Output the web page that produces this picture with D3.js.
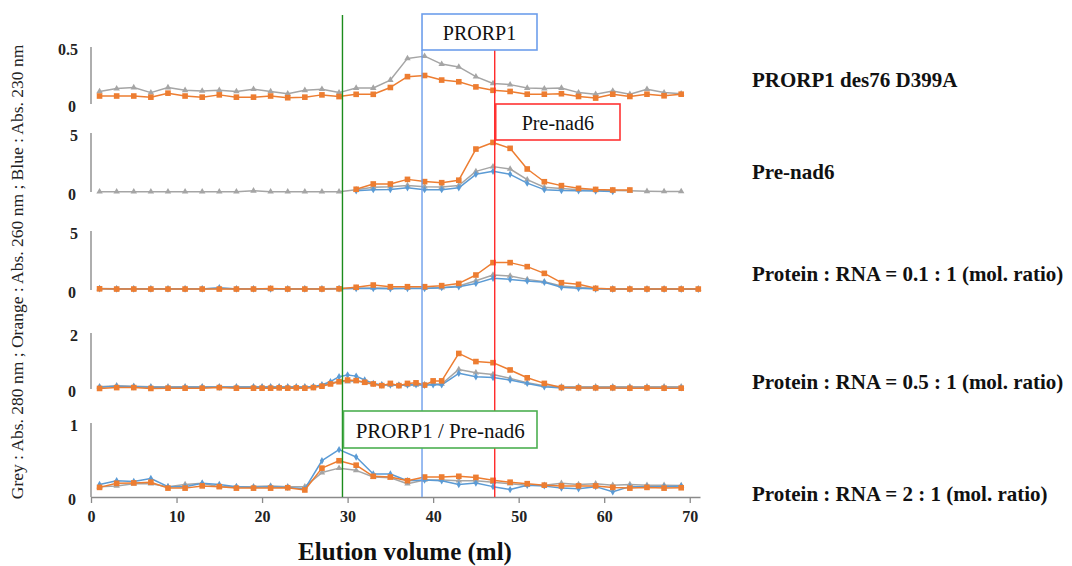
<!DOCTYPE html>
<html>
<head>
<meta charset="utf-8">
<script src="https://cdn.jsdelivr.net/npm/d3@7"></script>
<style>
  body { margin: 0; background: #fff; }
  svg { display: block; }
</style>
</head>
<body>
<svg id="chart" width="1072" height="566"></svg>
<script>
// Elution volumes (ml) of collected fractions
const fractionsOdd = [1,3,5,7,9,11,13,15,17,19,21,23,25,27,29,31,33,35,37,39,41,43,45,47,49,51,53,55,57,59,61,63,65,67,69];
const fractionsTo71 = [1,3,5,7,9,11,13,15,17,19,21,23,25,27,29,31,33,35,37,39,41,43,45,47,49,51,53,55,57,59,61,63,65,67,69,71];
const fractionsFine = [1,3,5,7,9,11,13,15,17,19,20,21,22,23,24,25,26,27,28,29,30,31,32,33,34,35,36,37,38,39,40,41,43,45,47,49,51,53,55,57,59,61,63,65,67,69];

// PRORP1 des76 D399A alone
const p1Grey   = [0.11,0.135,0.144,0.10,0.144,0.12,0.115,0.12,0.11,0.13,0.11,0.09,0.12,0.13,0.10,0.14,0.14,0.21,0.40,0.42,0.35,0.325,0.24,0.18,0.17,0.14,0.135,0.14,0.10,0.086,0.115,0.086,0.13,0.10,0.09];
const p1Orange = [0.07,0.07,0.07,0.06,0.095,0.07,0.06,0.08,0.06,0.06,0.07,0.055,0.06,0.08,0.065,0.085,0.085,0.145,0.24,0.25,0.21,0.195,0.15,0.12,0.11,0.086,0.086,0.09,0.066,0.052,0.086,0.066,0.086,0.072,0.086];

// Pre-nad6 alone
const p2Grey   = [0.03,0.03,0.03,0.03,0.03,0.03,0.03,0.03,0.03,0.1,0.03,0.03,0.03,0.03,0.03,0.2,0.4,0.45,0.55,0.45,0.42,0.55,1.75,2.15,1.95,1.05,0.4,0.3,0.2,0.15,0.12,0.1,0.06,0.05,0.05];
const p2Orange = [null,null,null,null,null,null,null,null,null,null,null,null,null,null,null,0.23,0.68,0.68,1.07,0.88,0.79,1.0,3.64,4.2,3.7,1.95,0.87,0.54,0.31,0.22,0.17,0.17,null,null,null];
const p2Blue   = [null,null,null,null,null,null,null,null,null,null,null,null,null,null,null,0.1,0.2,0.22,0.35,0.2,0.2,0.35,1.5,1.75,1.5,0.75,0.2,0.12,0.1,0.08,0.05,null,null,null,null];

// Protein : RNA = 0.1 : 1
const p3Grey   = [0.12,0.1,0.1,0.1,0.1,0.1,0.1,0.12,0.1,0.1,0.1,0.1,0.1,0.1,0.12,0.15,0.18,0.15,0.15,0.15,0.2,0.34,0.79,1.27,1.19,0.9,0.7,0.34,0.23,0.12,0.1,0.1,0.1,0.1,0.1,0.1];
const p3Orange = [0.1,0.08,0.08,0.08,0.08,0.08,0.08,0.08,0.08,0.08,0.13,0.08,0.08,0.08,0.1,0.23,0.42,0.28,0.28,0.28,0.37,0.56,1.27,2.32,2.32,1.98,1.41,0.62,0.48,0.14,0.08,0.08,0.08,0.08,0.08,0.08];
const p3Blue   = [0.1,0.08,0.08,0.08,0.08,0.08,0.08,0.2,0.08,0.08,0.08,0.08,0.08,0.08,0.1,0.12,0.12,0.1,0.12,0.12,0.2,0.28,0.56,0.99,0.9,0.76,0.65,0.23,0.14,0.08,0.06,0.06,0.06,0.06,0.06,0.06];

// Protein : RNA = 0.5 : 1
const p4Grey   = [0.08,0.12,0.1,0.08,0.08,0.08,0.08,0.08,0.08,0.08,0.08,0.08,0.08,0.08,0.08,0.08,0.08,0.12,0.2,0.29,0.26,0.29,0.22,0.17,0.15,0.15,0.14,0.15,0.15,0.16,0.18,0.18,0.7,0.58,0.52,0.38,0.22,0.12,0.08,0.08,0.08,0.08,0.08,0.08,0.08,0.08];
const p4Orange = [0.02,0.05,0.05,0.02,0.03,0.03,0.03,0.05,0.03,0.03,0.03,0.03,0.04,0.03,0.04,0.03,0.05,0.1,0.18,0.26,0.32,0.3,0.24,0.18,0.12,0.2,0.12,0.2,0.22,0.14,0.29,0.29,1.27,0.98,0.94,0.68,0.4,0.2,0.05,0.04,0.04,0.04,0.03,0.04,0.03,0.03];
const p4Blue   = [0.06,0.1,0.08,0.06,0.05,0.06,0.06,0.06,0.06,0.06,0.06,0.06,0.06,0.06,0.06,0.06,0.08,0.15,0.26,0.44,0.5,0.46,0.32,0.2,0.14,0.14,0.13,0.14,0.15,0.13,0.15,0.15,0.56,0.44,0.41,0.32,0.2,0.08,0.04,0.04,0.04,0.04,0.04,0.04,0.04,0.04];

// Protein : RNA = 2 : 1
const p5Grey   = [0.14,0.15,0.18,0.18,0.14,0.17,0.185,0.14,0.14,0.14,0.15,0.14,0.14,0.33,0.39,0.36,0.27,0.26,0.18,0.23,0.23,0.22,0.22,0.2,0.18,0.16,0.16,0.185,0.17,0.18,0.16,0.17,0.16,0.16,0.155];
const p5Orange = [0.13,0.185,0.19,0.2,0.12,0.12,0.15,0.14,0.12,0.12,0.12,0.125,0.095,0.39,0.49,0.43,0.28,0.27,0.22,0.27,0.27,0.28,0.265,0.225,0.2,0.18,0.16,0.15,0.15,0.15,0.13,0.12,0.13,0.12,0.125];
const p5Blue   = [0.17,0.22,0.21,0.25,0.14,0.14,0.185,0.17,0.14,0.13,0.14,0.13,0.11,0.49,0.64,0.54,0.31,0.31,0.22,0.23,0.22,0.17,0.19,0.14,0.10,0.16,0.15,0.12,0.11,0.14,0.07,0.14,0.14,0.14,0.15];

const panelNames = ["PRORP1 des76 D399A", "Pre-nad6", "Protein : RNA = 0.1 : 1 (mol. ratio)", "Protein : RNA = 0.5 : 1 (mol. ratio)", "Protein : RNA = 2 : 1 (mol. ratio)"];
const panelMax = [0.5, 5, 5, 2, 1];
const panelMaxLabels = ["0.5", "5", "5", "2", "1"];
const xTicks = [0, 10, 20, 30, 40, 50, 60, 70];

// Peak positions (ml) of the reference species
const peakNames = ["PRORP1 / Pre-nad6", "PRORP1", "Pre-nad6"];
const peakVolumes = [29.4, 38.7, 47.2];

const panels = [
  { x: fractionsOdd,   grey: p1Grey, orange: p1Orange, blue: null },
  { x: fractionsOdd,   grey: p2Grey, orange: p2Orange, blue: p2Blue },
  { x: fractionsTo71,  grey: p3Grey, orange: p3Orange, blue: p3Blue },
  { x: fractionsFine,  grey: p4Grey, orange: p4Orange, blue: p4Blue },
  { x: fractionsOdd,   grey: p5Grey, orange: p5Orange, blue: p5Blue }
];

// Layout
const SERIF = "'Liberation Serif', 'DejaVu Serif', 'Times New Roman', serif";
const bands = [[47, 104], [133, 192], [231, 290], [333, 389], [423, 497]];
const nameY = [80, 172, 274, 382, 494];
const colors = { grey: "#a5a5a5", orange: "#ed7d31", blue: "#5b9bd5" };

const svg = d3.select("#chart").attr("font-family", SERIF);
const x = d3.scaleLinear().domain([0, 71.2]).range([91, 700]);

panels.forEach((p, i) => {
  const [top, bottom] = bands[i];
  const y = d3.scaleLinear().domain([0, panelMax[i]]).range([bottom, top]);
  const g = svg.append("g");

  g.append("line")
    .attr("x1", x(0)).attr("x2", x(0))
    .attr("y1", y(panelMax[i])).attr("y2", y(0))
    .attr("stroke", "#9a9a9a").attr("stroke-width", 1.6);

  g.append("text").attr("x", 78).attr("y", y(panelMax[i]) + 2)
    .attr("text-anchor", "end").attr("dominant-baseline", "central")
    .attr("font-family", SERIF)
    .attr("font-weight", "bold").attr("font-size", 16).attr("fill", "#222")
    .text(panelMaxLabels[i]);
  g.append("text").attr("x", 76).attr("y", y(0) + 2)
    .attr("text-anchor", "end").attr("dominant-baseline", "central")
    .attr("font-family", SERIF)
    .attr("font-weight", "bold").attr("font-size", 16).attr("fill", "#222")
    .text("0");

  const order = ["grey", "blue", "orange"];
  order.forEach(key => {
    const vals = p[key];
    if (!vals) return;
    const pts = p.x.map((v, k) => ({ v: v, a: vals[k] }));
    const line = d3.line().defined(d => d.a != null).x(d => x(d.v)).y(d => y(d.a));
    g.append("path").datum(pts)
      .attr("fill", "none").attr("stroke", colors[key]).attr("stroke-width", 1.5)
      .attr("stroke-linejoin", "round").attr("d", line);
    const valid = pts.filter(d => d.a != null);
    if (key === "orange") {
      g.selectAll(null).data(valid).join("rect")
        .attr("x", d => x(d.v) - 2.8).attr("y", d => y(d.a) - 2.8)
        .attr("width", 5.6).attr("height", 5.6).attr("fill", colors.orange);
    } else if (key === "grey") {
      const tri = d3.symbol().type(d3.symbolTriangle).size(18);
      g.selectAll(null).data(valid).join("path")
        .attr("transform", d => `translate(${x(d.v)},${y(d.a)})`)
        .attr("d", tri).attr("fill", colors.grey);
    } else {
      const dia = d3.symbol().type(d3.symbolDiamond).size(16);
      g.selectAll(null).data(valid).join("path")
        .attr("transform", d => `translate(${x(d.v)},${y(d.a)})`)
        .attr("d", dia).attr("fill", colors.blue);
    }
  });

  svg.append("text").attr("x", 752).attr("y", nameY[i])
    .attr("dominant-baseline", "central")
    .attr("font-family", SERIF)
    .attr("font-weight", "bold").attr("font-size", 21).attr("fill", "#111")
    .text(panelNames[i]);
});

// Shared elution-volume axis under the bottom panel
const axisY = bands[4][1];
const ax = svg.append("g").attr("transform", `translate(0,${axisY})`)
  .call(d3.axisBottom(x).tickValues(xTicks).tickSize(6).tickSizeOuter(0).tickPadding(8));
ax.attr("font-family", SERIF);
ax.select(".domain").attr("stroke", "#8a8a8a").attr("stroke-width", 1.5);
ax.selectAll(".tick line").attr("stroke", "#8a8a8a").attr("stroke-width", 1.3);
ax.selectAll(".tick text")
  .attr("font-family", SERIF)
  .attr("font-weight", "bold").attr("font-size", 16).attr("fill", "#222");

// Peak marker lines and boxed labels
const lineTop = [15, 50, 50];
const lineColors = ["#1c8c1c", "#6d9eeb", "#ff2a2a"];
const boxColors = ["#4caf50", "#6d9eeb", "#ff3333"];
const boxes = [
  { x0: x(peakVolumes[0]) + 1, x1: 537, y0: 411, y1: 448 },
  { x0: x(peakVolumes[1]),     x1: 537, y0: 14,  y1: 50 },
  { x0: x(peakVolumes[2]) + 1, x1: 620, y0: 104, y1: 140 }
];

peakVolumes.forEach((v, i) => {
  svg.append("line")
    .attr("x1", x(v)).attr("x2", x(v))
    .attr("y1", lineTop[i]).attr("y2", axisY)
    .attr("stroke", lineColors[i]).attr("stroke-width", 1.4);
});

const boxFont = [21, 20, 20];
boxes.forEach((b, i) => {
  svg.append("rect")
    .attr("x", b.x0).attr("y", b.y0)
    .attr("width", b.x1 - b.x0).attr("height", b.y1 - b.y0)
    .attr("fill", "#fff").attr("stroke", boxColors[i]).attr("stroke-width", 1.6);
  svg.append("text")
    .attr("x", (b.x0 + b.x1) / 2).attr("y", (b.y0 + b.y1) / 2 + 1)
    .attr("text-anchor", "middle").attr("dominant-baseline", "central")
    .attr("font-family", SERIF)
    .attr("font-size", boxFont[i]).attr("fill", "#111")
    .text(peakNames[i]);
});

// Axis titles
svg.append("text")
  .attr("transform", "translate(17,272) rotate(-90)")
  .attr("text-anchor", "middle").attr("dominant-baseline", "central")
  .attr("font-family", SERIF)
  .attr("font-size", 17.5).attr("fill", "#222")
  .text("Grey : Abs. 280 nm ; Orange : Abs. 260 nm ; Blue : Abs. 230 nm");

svg.append("text")
  .attr("x", 405).attr("y", 551)
  .attr("text-anchor", "middle").attr("dominant-baseline", "central")
  .attr("font-family", SERIF)
  .attr("font-weight", "bold").attr("font-size", 25).attr("fill", "#111")
  .text("Elution volume (ml)");
</script>
</body>
</html>
